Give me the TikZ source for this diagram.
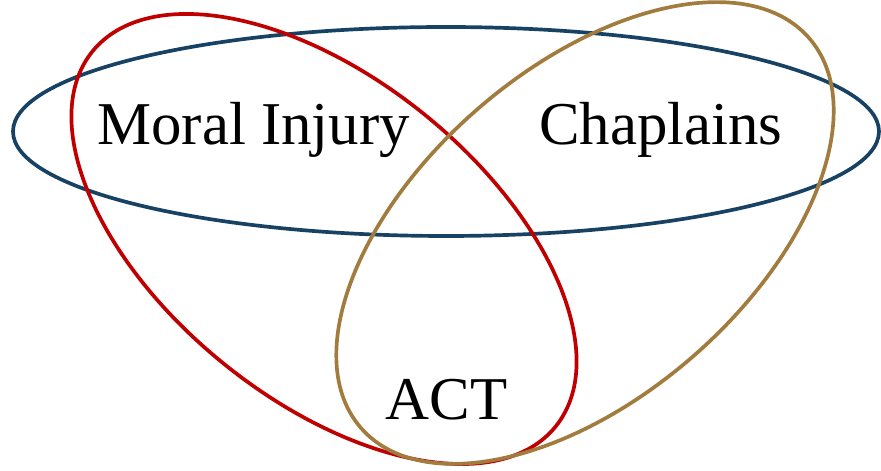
\documentclass[tikz,border=0pt]{standalone}
\usepackage{fontspec}
\setmainfont{Liberation Serif}
\usepackage{tikz}
\definecolor{setblue}{RGB}{23,66,99}
\definecolor{setred}{RGB}{192,0,0}
\definecolor{setgold}{RGB}{162,124,62}
\tikzset{set/.style={line width=1.05pt},
 lbl/.style={anchor=base,inner sep=0pt,font=\fontsize{17.3}{21}\selectfont}}

\begin{document}
\begin{tikzpicture}
\useasboundingbox (0,0) rectangle (8.81,4.71);
\coordinate (cblue) at (4.46,3.395);
\coordinate (cred) at (3.24,2.32);
\coordinate (cgold) at (5.85,2.38);
\draw[set,setblue] (cblue) ellipse [x radius=4.33cm,y radius=1.045cm];
\draw[set,setred] (cred) ellipse [x radius=2.98cm,y radius=1.6cm,rotate=-39];
\draw[set,setgold] (cgold) ellipse [x radius=2.97cm,y radius=1.64cm,rotate=41];
\node[lbl] (moral) at (2.535,3.26) {Moral Injury};
\node[lbl] (chap) at (6.61,3.26) {Chaplains};
\node[lbl] (act) at (4.465,0.51) {ACT};
\end{tikzpicture}
\end{document}
